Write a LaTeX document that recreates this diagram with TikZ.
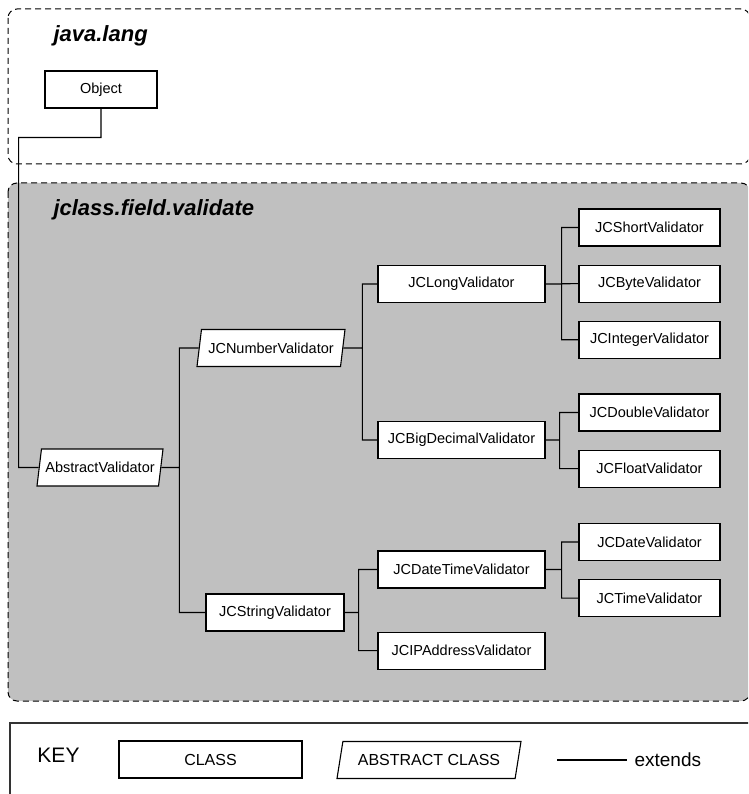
\documentclass[tikz,border=0pt]{standalone}
\usepackage{fontspec}
\setmainfont{Liberation Sans}
\usepackage{tikz}
\usetikzlibrary{positioning, shapes.geometric}
\definecolor{pkggray}{RGB}{192,192,192}
\tikzset{
x=1pt, y=-1pt, % one unit is one pixel, y runs downwards
node distance=18pt, % gap between stacked sibling classes
every node/.style={font=\fontsize{14.5}{16}\selectfont}, % class names
class/.style={draw, line width=1.1pt, fill=white, minimum height=37, inner sep=2}, % a plain class
leaf/.style={class, minimum width=141}, % classes of the last column
abstract/.style={class, trapezium, trapezium left angle=73, trapezium right angle=107, trapezium stretches body}, % an abstract class
package/.style={draw, line width=1pt, dash pattern=on 6pt off 4pt, rounded corners=9}, % dashed package frame
title/.style={anchor=base west, font=\fontsize{22}{26}\selectfont\bfseries\itshape}, % package name
extends/.style={line width=1.1pt}, % inheritance line
keytext/.style={font=\fontsize{16}{18}\selectfont}, % text in the key
}

\begin{document}
\begin{tikzpicture}
\clip (0,0) rectangle (748,794);
% packages
\draw[package] (8,9) rectangle (750,164);
\draw[package, fill=pkggray] (8,183) rectangle (750,701);
\node[title] (javalang) at (50,42) {java.lang};
\node[title] (validate) at (50,215) {jclass.field.validate};

% classes
\node[class, minimum width=112] (Object) at (101,89.5) {Object};
\node[abstract, minimum width=126] (AbstractValidator) at (100,467.5) {AbstractValidator};
\node[abstract, minimum width=148] (JCNumberValidator) at (271,348) {JCNumberValidator};
\node[class, minimum width=138] (JCStringValidator) at (275,612.5) {JCStringValidator};
\node[class, minimum width=167] (JCLongValidator) at (461.5,284) {JCLongValidator};
\node[class, minimum width=167] (JCBigDecimalValidator) at (461.5,440) {JCBigDecimalValidator};
\node[class, minimum width=167] (JCDateTimeValidator) at (461.5,569.5) {JCDateTimeValidator};
\node[class, minimum width=167, below=43pt of JCDateTimeValidator] (JCIPAddressValidator) {JCIPAddressValidator};
\node[leaf] (JCShortValidator) at (649.5,227.5) {JCShortValidator};
\node[leaf, below=of JCShortValidator] (JCByteValidator) {JCByteValidator};
\node[leaf, below=of JCByteValidator] (JCIntegerValidator) {JCIntegerValidator};
\node[leaf] (JCDoubleValidator) at (649.5,412.5) {JCDoubleValidator};
\node[leaf, below=of JCDoubleValidator] (JCFloatValidator) {JCFloatValidator};
\node[leaf] (JCDateValidator) at (649.5,542) {JCDateValidator};
\node[leaf, below=of JCDateValidator] (JCTimeValidator) {JCTimeValidator};

\draw[extends]
    (Object.south) -- ++(0,29) -| ([xshift=-20pt]AbstractValidator.west) -- (AbstractValidator.west)
    (AbstractValidator.east) -- ++(18,0) |- (JCNumberValidator.west)
    (AbstractValidator.east) -- ++(18,0) |- (JCStringValidator.west)
    (JCNumberValidator.east) -- ++(19,0) |- (JCLongValidator.west)
    (JCNumberValidator.east) -- ++(19,0) |- (JCBigDecimalValidator.west)
    (JCStringValidator.east) -- ++(14,0) |- (JCDateTimeValidator.west)
    (JCStringValidator.east) -- ++(14,0) |- (JCIPAddressValidator.west)
    (JCLongValidator.east) -- ++(16,0) |- (JCShortValidator.west)
    (JCLongValidator.east) -- (JCByteValidator.west)
    (JCLongValidator.east) -- ++(16,0) |- (JCIntegerValidator.west)
    (JCBigDecimalValidator.east) -- ++(14,0) |- (JCDoubleValidator.west)
    (JCBigDecimalValidator.east) -- ++(14,0) |- (JCFloatValidator.west)
    (JCDateTimeValidator.east) -- ++(16,0) |- (JCDateValidator.west)
    (JCDateTimeValidator.east) -- ++(16,0) |- (JCTimeValidator.west)
    ;

% key
\draw[line width=1.1pt, draw=black!80] (10,723) rectangle (760,810);
\node[font=\fontsize{21}{24}\selectfont] (key) at (58.5,755) {KEY};
\node[class, keytext, minimum width=183] (keyclass) at (210.5,759.5) {CLASS};
\node[abstract, keytext, minimum width=184, trapezium left angle=69, trapezium right angle=111] (keyabstract) at (429,760) {ABSTRACT CLASS};
\coordinate (extA) at (557,760);
\coordinate (extB) at (627,760);
\draw[extends] (extA) -- (extB);
\node[font=\fontsize{19}{22}\selectfont, right=4pt of extB] (extends) {extends};
\end{tikzpicture}
\end{document}
